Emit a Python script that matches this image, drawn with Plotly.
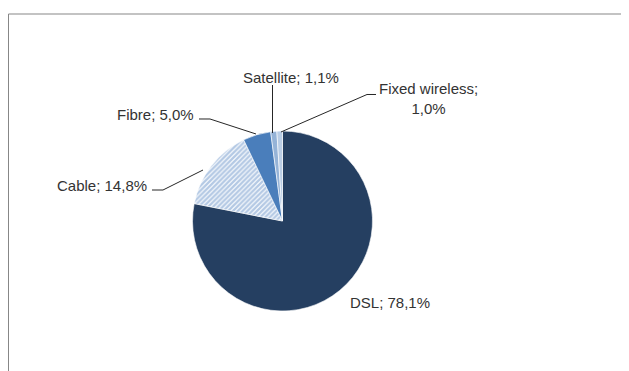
import plotly.graph_objects as go

# ---- data ----
categories = ["DSL", "Cable", "Fibre", "Satellite", "Fixed wireless"]
values = [78.1, 14.8, 5.0, 1.1, 1.0]
label_texts = ["DSL; 78,1%", "Cable; 14,8%", "Fibre; 5,0%", "Satellite; 1,1%", "Fixed wireless;<br>1,0%"]

# ---- styles ----
W, H = 629, 371
OFF = 8  # page body margin offset compensation
colors = ["#253F61", "#FFFFFF", "#4A7EBB", "#95B3D7", "#B9CDE5"]
pattern_shapes = ["", "/", "", "", ""]
cx, cy, r = 282.5, 221, 90


def px(x):
    return (x - OFF) / W


def py(y):
    return 1 - (y - OFF) / H


fig = go.Figure(go.Pie(
    labels=categories,
    values=values,
    sort=False,
    direction="clockwise",
    rotation=0,
    textinfo="none",
    hoverinfo="label+percent",
    marker=dict(
        colors=colors,
        line=dict(color="#FFFFFF", width=0.6),
        pattern=dict(shape=pattern_shapes, fgcolor="#6A94CA", bgcolor="#FFFFFF",
                     size=3.4, solidity=0.7, fillmode="overlay"),
    ),
    domain=dict(x=[px(cx - r), px(cx + r)], y=[py(cy + r), py(cy - r)]),
    showlegend=False,
))

# label placements (pixel positions, layout only)
label_pos = {
    "DSL": dict(x=348, y=302, xanchor="left", align="left"),
    "Cable": dict(x=149, y=186, xanchor="right", align="right"),
    "Fibre": dict(x=196, y=114.5, xanchor="right", align="right"),
    "Satellite": dict(x=291, y=77, xanchor="center", align="center"),
    "Fixed wireless": dict(x=428, y=98.5, xanchor="center", align="center"),
}
leader_paths = {
    "Cable": [(152, 190), (163, 190), (203, 170)],
    "Fibre": [(199, 119), (210, 119), (256, 134)],
    "Satellite": [(272.5, 85), (272.5, 133)],
    "Fixed wireless": [(376, 94.5), (367, 94.5), (281, 132)],
}

annotations = []
for cat, txt in zip(categories, label_texts):
    p = label_pos[cat]
    annotations.append(dict(
        x=px(p["x"]), y=py(p["y"]), xref="paper", yref="paper",
        text=txt, showarrow=False, xanchor=p["xanchor"], yanchor="middle",
        align=p["align"],
        font=dict(family="Liberation Sans, Arial, sans-serif", size=15, color="#333333"),
    ))

shapes = []
for cat, pts in leader_paths.items():
    path = "M " + " L ".join(f"{px(x):.5f},{py(y):.5f}" for x, y in pts)
    shapes.append(dict(type="path", xref="paper", yref="paper", path=path,
                       line=dict(color="#262626", width=1)))

# chart frame (top and left edges visible)
shapes.append(dict(type="line", xref="paper", yref="paper",
                   x0=px(8.5), y0=py(14), x1=1.0, y1=py(14),
                   line=dict(color="#878787", width=1)))
shapes.append(dict(type="line", xref="paper", yref="paper",
                   x0=px(8.5), y0=py(14), x1=px(8.5), y1=0.0,
                   line=dict(color="#878787", width=1)))

fig.update_layout(
    width=W, height=H,
    margin=dict(l=0, r=0, t=0, b=0),
    paper_bgcolor="#FFFFFF",
    plot_bgcolor="#FFFFFF",
    annotations=annotations,
    shapes=shapes,
)

fig.write_html("out.html")
